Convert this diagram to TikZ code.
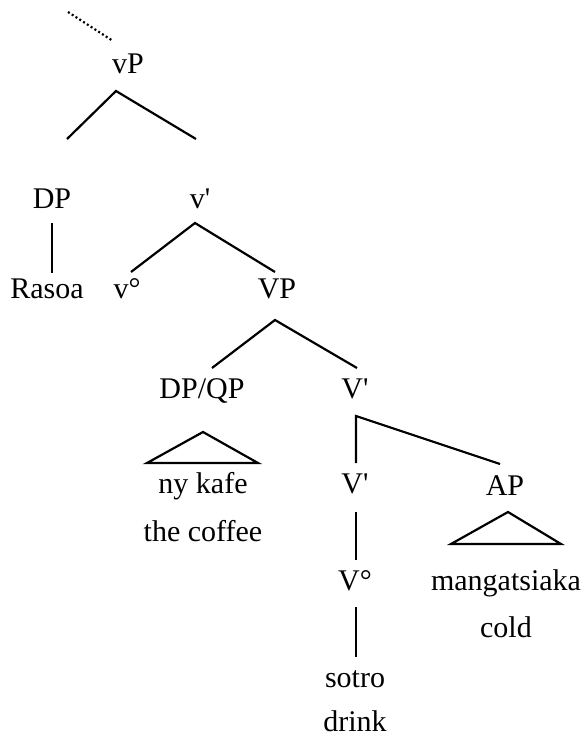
\documentclass[tikz,border=0pt]{standalone}
\usepackage{fontspec}
\setmainfont{Liberation Serif}
\begin{document}
\begin{tikzpicture}[x=1pt,y=-1pt,
  lbl/.style={anchor=base,inner sep=0pt,font=\fontsize{30}{33}\selectfont},
  br/.style={line width=2.2pt,line join=miter}]
\useasboundingbox (0,0) rectangle (585,737);
% labels
\node[lbl] (vP) at (128,73) {vP};
\node[lbl] (DP) at (52,208) {DP};
\node[lbl] (vbar) at (200,208) {v\textquotesingle};
\node[lbl] (Rasoa) at (47,298) {Rasoa};
\node[lbl] (v0) at (127,298) {v°};
\node[lbl] (VP) at (277,298) {VP};
\node[lbl] (DPQP) at (202,398) {DP/QP};
\node[lbl] (Vbar) at (355,398) {V\textquotesingle};
\node[lbl] (nykafe) at (203,493) {ny kafe};
\node[lbl] (thecoffee) at (203,541) {the coffee};
\node[lbl] (Vbar2) at (355,493) {V\textquotesingle};
\node[lbl] (AP) at (505,495) {AP};
\node[lbl] (V0) at (355,590) {V°};
\node[lbl] (mang) at (506,590) {mangatsiaka};
\node[lbl] (cold) at (506,637) {cold};
\node[lbl] (sotro) at (355,687) {sotro};
\node[lbl] (drink) at (355,731) {drink};
% branch points
\coordinate (dotA) at (68,12);
\coordinate (dotB) at (113,41);
\coordinate (vPtop) at (116,91);
\coordinate (vPl) at (67,139);
\coordinate (vPr) at (196,139);
\coordinate (DPt) at (52,223);
\coordinate (DPb) at (52,273);
\coordinate (vbtop) at (195,223);
\coordinate (vbl) at (131,272);
\coordinate (vbr) at (275,272);
\coordinate (VPtop) at (275,320);
\coordinate (VPl) at (212,368);
\coordinate (VPr) at (357,368);
\coordinate (triA) at (203,432);
\coordinate (triL) at (147,463);
\coordinate (triR) at (258,463);
\coordinate (Vbtop) at (356,416);
\coordinate (Vbl) at (356,463);
\coordinate (Vbr) at (500,464);
\coordinate (Vb2t) at (356,512);
\coordinate (Vb2b) at (356,560);
\coordinate (V0t) at (356,607);
\coordinate (V0b) at (356,657);
\coordinate (apA) at (508,512);
\coordinate (apL) at (451,544);
\coordinate (apR) at (561,544);
% connectors
\draw[line width=2.2pt,dash pattern=on 2pt off 2.5pt] (dotA) -- (dotB);
\draw[br] (vPl) -- (vPtop) -- (vPr);
\draw[br] (DPt) -- (DPb);
\draw[br] (vbl) -- (vbtop) -- (vbr);
\draw[br] (VPl) -- (VPtop) -- (VPr);
\draw[br] (triA) -- (triL) -- (triR) -- cycle;
\draw[br] (Vbl) -- (Vbtop) -- (Vbr);
\draw[br] (Vb2t) -- (Vb2b);
\draw[br] (V0t) -- (V0b);
\draw[br] (apA) -- (apL) -- (apR) -- cycle;
\end{tikzpicture}
\end{document}
